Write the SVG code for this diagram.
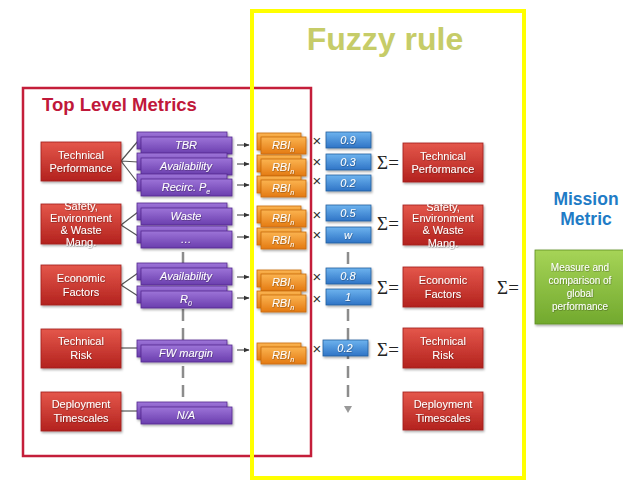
<svg xmlns="http://www.w3.org/2000/svg" width="623" height="482" viewBox="0 0 623 482">
<defs>
<linearGradient id="gRed" x1="0" y1="0" x2="0" y2="1"><stop offset="0" stop-color="#e4574b"/><stop offset="1" stop-color="#b3221e"/></linearGradient>
<linearGradient id="gPur" x1="0" y1="0" x2="0" y2="1"><stop offset="0" stop-color="#9d74d8"/><stop offset="1" stop-color="#6a3eae"/></linearGradient>
<linearGradient id="gOra" x1="0" y1="0" x2="0" y2="1"><stop offset="0" stop-color="#fbb450"/><stop offset="1" stop-color="#e47a12"/></linearGradient>
<linearGradient id="gBlu" x1="0" y1="0" x2="0" y2="1"><stop offset="0" stop-color="#6db3ee"/><stop offset="1" stop-color="#2e74c6"/></linearGradient>
<linearGradient id="gGre" x1="0" y1="0" x2="0" y2="1"><stop offset="0" stop-color="#a6d457"/><stop offset="1" stop-color="#72a92e"/></linearGradient>
<filter id="sh" x="-10%" y="-10%" width="130%" height="140%"><feDropShadow dx="1" dy="1.5" stdDeviation="1" flood-color="#000" flood-opacity="0.35"/></filter>
<filter id="ts" x="-10%" y="-20%" width="120%" height="150%"><feDropShadow dx="0.5" dy="0.6" stdDeviation="0.5" flood-color="#000" flood-opacity="0.45"/></filter>
<marker id="ah" viewBox="0 0 10 10" refX="9" refY="5" markerWidth="6" markerHeight="6" orient="auto"><path d="M0,1 L10,5 L0,9 z" fill="#333"/></marker>
</defs>
<style>
.red{fill:url(#gRed);stroke:#a01c1a;stroke-width:0.8;filter:url(#sh)}
.pur{fill:url(#gPur);stroke:#55298f;stroke-width:0.8;filter:url(#sh)}
.ora{fill:url(#gOra);stroke:#c86a10;stroke-width:0.8;filter:url(#sh)}
.blu{fill:url(#gBlu);stroke:#25609f;stroke-width:0.8;filter:url(#sh)}
.gre{fill:url(#gGre);stroke:#5f8f22;stroke-width:0.8;filter:url(#sh)}
.nt{font-family:"Liberation Sans",Arial,sans-serif;font-size:11px;fill:#fff;text-anchor:middle;filter:url(#ts)}
.gt{font-family:"Liberation Sans",Arial,sans-serif;font-size:10px;fill:#fff;text-anchor:middle;filter:url(#ts)}
.it{font-family:"Liberation Sans",Arial,sans-serif;font-size:11px;fill:#fff;text-anchor:middle;font-style:italic;filter:url(#ts)}
.sub{font-size:7px}
.x{font-family:"Liberation Sans",Arial,sans-serif;font-size:15px;fill:#333;text-anchor:middle}
.sig{font-family:"Liberation Serif","Times New Roman",serif;font-size:19px;fill:#222;text-anchor:middle}
.ln{stroke:#555;stroke-width:1.2;fill:none}
.ar{stroke:#333;stroke-width:1;fill:none;marker-end:url(#ah)}
.dash{stroke:#8c8c8c;stroke-width:2.5;fill:none;stroke-dasharray:12 7}
</style>
<rect width="623" height="482" fill="#ffffff"/>

<g id="frame-top-level">
<rect x="23" y="88" width="288" height="368" fill="none" stroke="#c41e3a" stroke-width="2.5"/>
<text x="42" y="111" font-family="Liberation Sans,Arial,sans-serif" font-size="18.5" font-weight="bold" fill="#c0183a">Top Level Metrics</text>
</g>

<g id="connectors">
<line class="dash" x1="183" y1="252" x2="183" y2="402"/>
<line class="dash" x1="348" y1="252" x2="348" y2="404"/>
<path d="M344,406 L352,406 L348,413 z" fill="#999"/>
<path class="ln" d="M121,161 L138,141 M121,161 L138,162 M121,161 L138,183"/>
<path class="ln" d="M121,225 L138,212 M121,225 L138,236"/>
<path class="ln" d="M121,285 L138,273 M121,285 L138,296"/>
<path class="ln" d="M121,348 L139,348"/>
<path class="ln" d="M121,411 L139,411"/>
<line class="ar" x1="237" y1="145" x2="249" y2="145"/>
<line class="ar" x1="237" y1="164" x2="249" y2="164"/>
<line class="ar" x1="237" y1="185" x2="249" y2="185"/>
<line class="ar" x1="237" y1="215" x2="249" y2="215"/>
<line class="ar" x1="237" y1="237" x2="249" y2="237"/>
<line class="ar" x1="237" y1="277" x2="249" y2="277"/>
<line class="ar" x1="237" y1="298" x2="249" y2="298"/>
<line class="ar" x1="237" y1="350" x2="249" y2="350"/>
</g>

<g id="l-tech-perf"><rect class="red" x="41" y="142" width="80" height="39"/><text class="nt" x="81" y="159">Technical</text><text class="nt" x="81" y="172">Performance</text></g>
<g id="l-safety"><rect class="red" x="41" y="204" width="80" height="40"/><text class="nt" x="81" y="210">Safety,</text><text class="nt" x="81" y="222">Environment</text><text class="nt" x="81" y="234">&amp; Waste</text><text class="nt" x="81" y="246">Mang.</text></g>
<g id="l-economic"><rect class="red" x="41" y="265" width="80" height="40"/><text class="nt" x="81" y="282">Economic</text><text class="nt" x="81" y="296">Factors</text></g>
<g id="l-tech-risk"><rect class="red" x="41" y="329" width="80" height="39"/><text class="nt" x="81" y="345">Technical</text><text class="nt" x="81" y="359">Risk</text></g>
<g id="l-deploy"><rect class="red" x="41" y="392" width="80" height="39"/><text class="nt" x="81" y="408">Deployment</text><text class="nt" x="81" y="422">Timescales</text></g>

<g id="p-tbr"><rect class="pur" x="137" y="132" width="90" height="17"/><rect class="pur" x="141" y="137" width="91" height="17"/><text class="it" x="186" y="149">TBR</text></g>
<g id="p-avail1"><rect class="pur" x="137" y="153" width="90" height="17"/><rect class="pur" x="141" y="158" width="91" height="17"/><text class="it" x="186" y="170">Availability</text></g>
<g id="p-recirc"><rect class="pur" x="137" y="174" width="90" height="17"/><rect class="pur" x="141" y="179" width="91" height="17"/><text class="it" x="186" y="191">Recirc. P<tspan class="sub" dy="3">e</tspan></text></g>
<g id="p-waste"><rect class="pur" x="137" y="203" width="90" height="17"/><rect class="pur" x="141" y="208" width="91" height="17"/><text class="it" x="186" y="220">Waste</text></g>
<g id="p-more"><rect class="pur" x="137" y="226" width="90" height="17"/><rect class="pur" x="141" y="231" width="91" height="17"/><text class="it" x="186" y="243">…</text></g>
<g id="p-avail2"><rect class="pur" x="137" y="263" width="90" height="17"/><rect class="pur" x="141" y="268" width="91" height="17"/><text class="it" x="186" y="280">Availability</text></g>
<g id="p-r0"><rect class="pur" x="137" y="286" width="90" height="17"/><rect class="pur" x="141" y="291" width="91" height="17"/><text class="it" x="186" y="303">R<tspan class="sub" dy="3">0</tspan></text></g>
<g id="p-fw"><rect class="pur" x="137" y="340" width="90" height="17"/><rect class="pur" x="141" y="345" width="91" height="17"/><text class="it" x="186" y="357">FW margin</text></g>
<g id="p-na"><rect class="pur" x="137" y="402" width="90" height="17"/><rect class="pur" x="141" y="407" width="91" height="17"/><text class="it" x="186" y="419">N/A</text></g>

<g id="o-1"><rect class="ora" x="257" y="133" width="44" height="17"/><rect class="ora" x="261" y="137" width="45" height="17"/><text class="it" x="283" y="149">RBI<tspan class="sub" dy="3">n</tspan></text></g>
<g id="o-2"><rect class="ora" x="257" y="155" width="44" height="17"/><rect class="ora" x="261" y="159" width="45" height="17"/><text class="it" x="283" y="171">RBI<tspan class="sub" dy="3">n</tspan></text></g>
<g id="o-3"><rect class="ora" x="257" y="176" width="44" height="17"/><rect class="ora" x="261" y="180" width="45" height="17"/><text class="it" x="283" y="192">RBI<tspan class="sub" dy="3">n</tspan></text></g>
<g id="o-4"><rect class="ora" x="257" y="206" width="44" height="17"/><rect class="ora" x="261" y="210" width="45" height="17"/><text class="it" x="283" y="222">RBI<tspan class="sub" dy="3">n</tspan></text></g>
<g id="o-5"><rect class="ora" x="257" y="228" width="44" height="17"/><rect class="ora" x="261" y="232" width="45" height="17"/><text class="it" x="283" y="244">RBI<tspan class="sub" dy="3">n</tspan></text></g>
<g id="o-6"><rect class="ora" x="257" y="270" width="44" height="17"/><rect class="ora" x="261" y="274" width="45" height="17"/><text class="it" x="283" y="286">RBI<tspan class="sub" dy="3">n</tspan></text></g>
<g id="o-7"><rect class="ora" x="257" y="291" width="44" height="17"/><rect class="ora" x="261" y="295" width="45" height="17"/><text class="it" x="283" y="307">RBI<tspan class="sub" dy="3">n</tspan></text></g>
<g id="o-8"><rect class="ora" x="257" y="343" width="44" height="17"/><rect class="ora" x="261" y="347" width="45" height="17"/><text class="it" x="283" y="359">RBI<tspan class="sub" dy="3">n</tspan></text></g>

<g id="times">
<text class="x" x="317" y="146">×</text>
<text class="x" x="317" y="167">×</text>
<text class="x" x="317" y="186">×</text>
<text class="x" x="317" y="220">×</text>
<text class="x" x="317" y="240">×</text>
<text class="x" x="317" y="282">×</text>
<text class="x" x="317" y="304">×</text>
<text class="x" x="317" y="354">×</text>
</g>

<g id="w-1"><rect class="blu" x="326" y="132" width="45" height="16"/><text class="it" x="348" y="144">0.9</text></g>
<g id="w-2"><rect class="blu" x="326" y="154" width="45" height="16"/><text class="it" x="348" y="166">0.3</text></g>
<g id="w-3"><rect class="blu" x="326" y="175" width="45" height="16"/><text class="it" x="348" y="187">0.2</text></g>
<g id="w-4"><rect class="blu" x="326" y="205" width="45" height="16"/><text class="it" x="348" y="217">0.5</text></g>
<g id="w-5"><rect class="blu" x="326" y="227" width="45" height="16"/><text class="it" x="348" y="239">w</text></g>
<g id="w-6"><rect class="blu" x="326" y="268" width="45" height="16"/><text class="it" x="348" y="280">0.8</text></g>
<g id="w-7"><rect class="blu" x="326" y="289" width="45" height="16"/><text class="it" x="348" y="301">1</text></g>
<g id="w-8"><rect class="blu" x="323" y="340" width="45" height="16"/><text class="it" x="345" y="352">0.2</text></g>

<g id="sums">
<text class="sig" x="388" y="169">Σ=</text>
<text class="sig" x="388" y="230">Σ=</text>
<text class="sig" x="388" y="294">Σ=</text>
<text class="sig" x="388" y="356">Σ=</text>
<text class="sig" x="508" y="294">Σ=</text>
</g>

<g id="r-tech-perf"><rect class="red" x="403" y="143" width="80" height="39"/><text class="nt" x="443" y="160">Technical</text><text class="nt" x="443" y="173">Performance</text></g>
<g id="r-safety"><rect class="red" x="403" y="205" width="80" height="40"/><text class="nt" x="443" y="211">Safety,</text><text class="nt" x="443" y="222">Environment</text><text class="nt" x="443" y="234">&amp; Waste</text><text class="nt" x="443" y="247">Mang.</text></g>
<g id="r-economic"><rect class="red" x="403" y="267" width="80" height="40"/><text class="nt" x="443" y="284">Economic</text><text class="nt" x="443" y="298">Factors</text></g>
<g id="r-tech-risk"><rect class="red" x="403" y="328" width="80" height="40"/><text class="nt" x="443" y="345">Technical</text><text class="nt" x="443" y="359">Risk</text></g>
<g id="r-deploy"><rect class="red" x="403" y="392" width="80" height="38"/><text class="nt" x="443" y="408">Deployment</text><text class="nt" x="443" y="422">Timescales</text></g>

<g id="mission">
<text x="586" y="205" font-family="Liberation Sans,Arial,sans-serif" font-size="17.5" font-weight="bold" fill="#1f7cc6" text-anchor="middle">Mission</text>
<text x="586" y="225" font-family="Liberation Sans,Arial,sans-serif" font-size="17.5" font-weight="bold" fill="#1f7cc6" text-anchor="middle">Metric</text>
</g>
<g id="global-perf"><rect class="gre" x="535" y="250" width="90" height="74"/>
<text class="gt" x="580" y="271">Measure and</text>
<text class="gt" x="580" y="284">comparison of</text>
<text class="gt" x="580" y="297">global</text>
<text class="gt" x="580" y="310">performance</text>
</g>

<g id="frame-fuzzy">
<rect x="252" y="11" width="272" height="467" fill="none" stroke="#ffff00" stroke-width="4"/>
<text x="385" y="50" font-family="Liberation Sans,Arial,sans-serif" font-size="32" font-weight="bold" fill="#c6cc68" text-anchor="middle">Fuzzy rule</text>
</g>
</svg>
